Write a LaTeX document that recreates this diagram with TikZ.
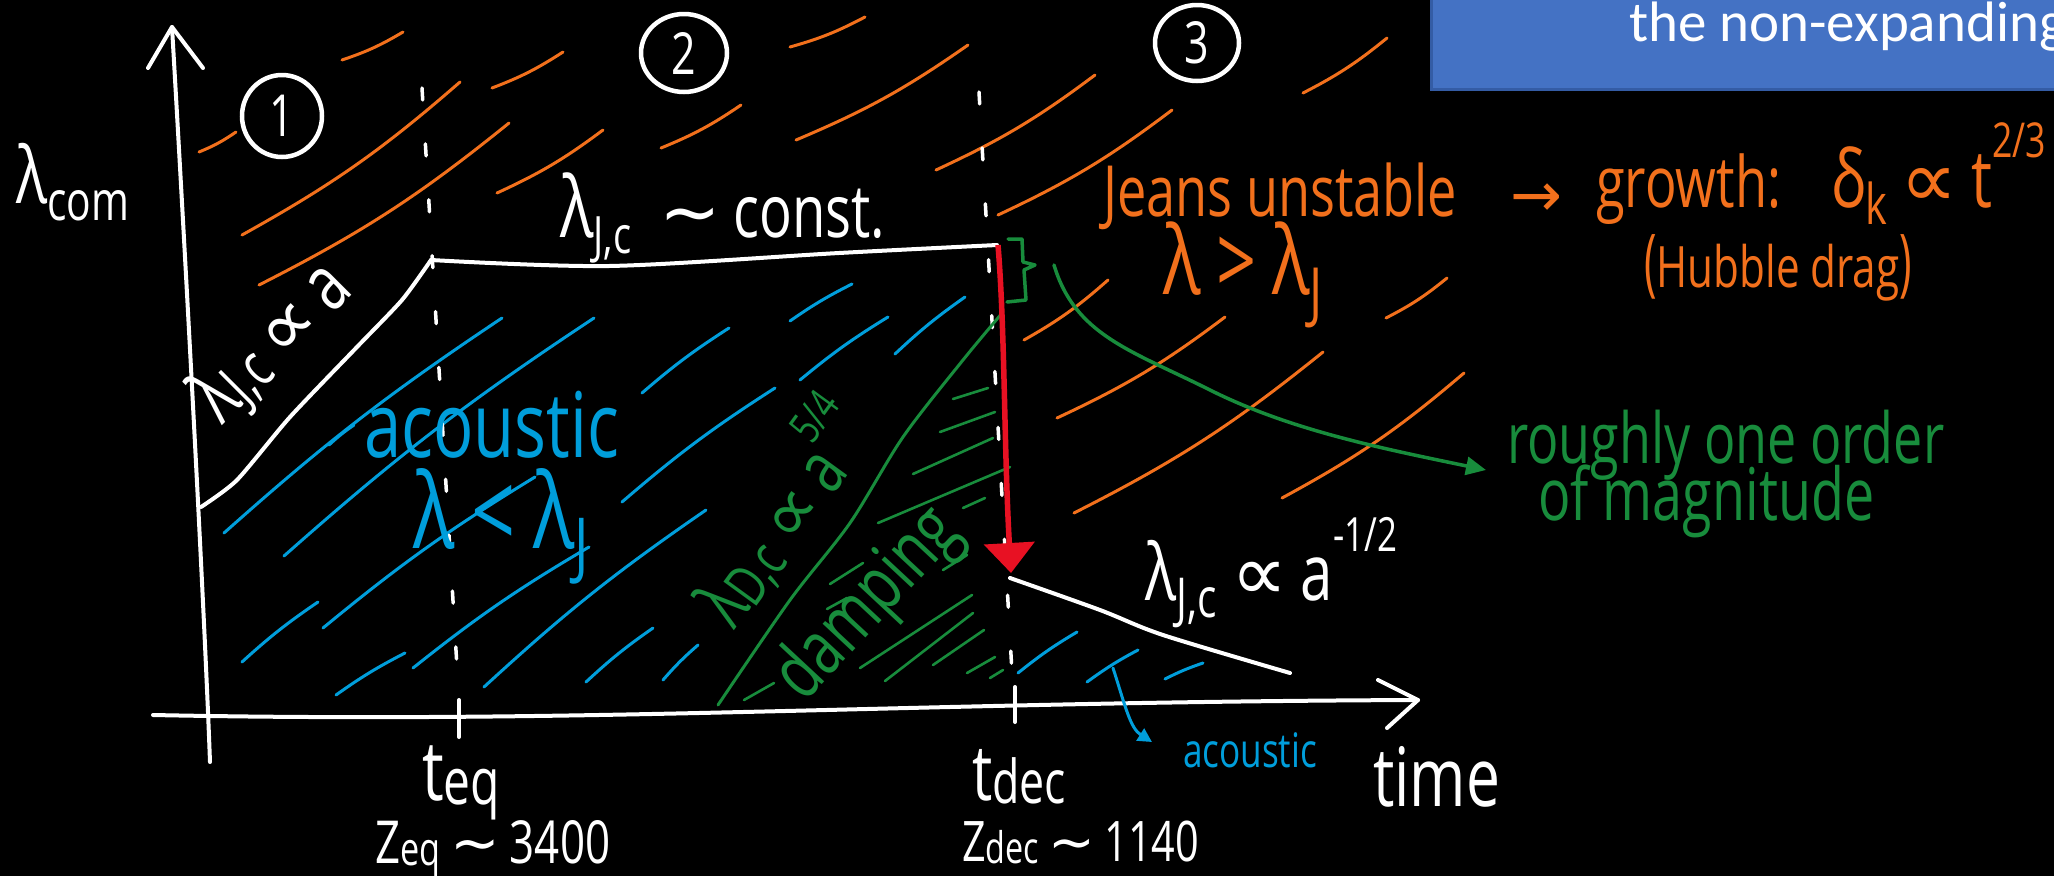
\documentclass[tikz,border=0pt]{standalone}
\usepackage{fontspec}
\usepackage{graphicx}
\usetikzlibrary{arrows.meta,shapes.geometric}
\newfontfamily\hand[FakeStretch=0.74]{Open Sans}
\newfontfamily\symf{DejaVu Sans}
\newfontfamily\boxf{Carlito}
\definecolor{hor}{RGB}{242,112,28}
\definecolor{hbl}{RGB}{0,158,219}
\definecolor{hgr}{RGB}{24,140,60}
\definecolor{hrd}{RGB}{232,17,35}
\definecolor{boxblue}{RGB}{68,114,196}
\definecolor{boxedge}{RGB}{52,92,165}
\newcommand\mylo[1]{\raisebox{-0.22em}{\scalebox{0.7}{#1}}}
\newcommand\mysm[1]{\raisebox{-0.05em}{\scalebox{0.78}{#1}}}
\newcommand\myhi[1]{\raisebox{0.62em}{\scalebox{0.6}{#1}}}
\newcommand\fitw[2]{\resizebox{#1}{!}{#2}}
\newcommand\mysym[1]{{\symf #1}}
\begin{document}
\begin{tikzpicture}[x=1pt,y=-1pt,
  wl/.style={white,line width=4pt,line cap=round,line join=round},
  wdash/.style={white,line width=3.5pt,line cap=round,dash pattern=on 12pt off 44pt},
  orl/.style={hor,line width=3pt,line cap=round},
  bll/.style={hbl,line width=3pt,line cap=round},
  grl/.style={hgr,line width=2.6pt,line cap=round},
  ht/.style={inner sep=0pt,font=\hand\fontsize{40}{48}\selectfont},
  numc/.style={ellipse,draw=white,line width=4.5pt,text=white,inner sep=0pt,font=\hand\fontsize{58}{58}\selectfont}]
\fill[black] (0,0) rectangle (2054,876);
\useasboundingbox (0,0) rectangle (2054,876);
\clip (0,0) rectangle (2054,876);

% title box
\fill[boxblue] (1431,-5) rectangle (2060,89);
\draw[boxedge,line width=3pt] (1431,-5) -- (1431,89) -- (2060,89);
\node[anchor=base west,text=white,inner sep=0pt,font=\boxf\fontsize{57}{62}\selectfont] (title) at (1629,41) {the non-expanding};

% orange hatching
\foreach \a/\b/\c/\d in {199/152/236/132, 342/60/403/32, 242/235/460/82, 259/285/509/123,
  492/88/563/52, 497/193/603/130, 661/148/741/105, 790/47/865/17, 796/140/968/45,
  936/170/1095/75, 998/215/1172/110, 1303/93/1387/38, 1024/340/1108/280,
  1386/318/1447/278, 1057/418/1225/317, 1074/513/1323/352, 1282/498/1464/373}
  \draw[orl] (\a,\b) to[bend right=6] (\c,\d);

% blue hatching
\foreach \a/\b/\c/\d in {224/533/502/318, 284/556/594/318, 242/662/318/602, 323/628/535/477,
  336/695/405/653, 413/668/589/547, 484/687/706/510, 642/393/729/328, 622/502/775/388,
  586/682/653/628, 663/680/698/645, 790/321/852/284, 800/380/888/317, 895/354/965/297,
  329/445/354/425, 1018/673/1077/632, 1087/682/1138/650, 1165/679/1203/663}
  \draw[bll] (\a,\b) to[bend left=4] (\c,\d);

% green hatching
\foreach \a/\b/\c/\d in {953/399/988/388, 940/432/995/412, 913/474/993/438, 878/523/1010/467,
  963/508/985/498, 943/570/967/555, 830/584/863/563, 827/609/847/598, 860/668/972/595,
  885/681/973/613, 933/665/984/630, 967/673/995/657, 990/678/1003/670, 744/700/774/683}
  \draw[grl] (\a,\b) -- (\c,\d);

% dashed time markers
\coordinate (eqtop) at (422,88);
\coordinate (eqbot) at (459,700);
\coordinate (dectop) at (979,92);
\coordinate (decbot) at (1013,690);
\draw[wdash] (eqtop) -- (eqbot);
\draw[wdash] (dectop) -- (decbot);

% axes
\coordinate (yorig) at (210,762);
\coordinate (ytip) at (172,27);
\coordinate (yb1) at (148,68);
\coordinate (yb2) at (203,68);
\draw[wl] (yorig) .. controls (204,600) and (185,250) .. (ytip);
\draw[wl] (yb1) -- (ytip) -- (yb2);
\coordinate (xstart) at (153,715);
\coordinate (xtip) at (1418,700);
\coordinate (xb1) at (1378,680);
\coordinate (xb2) at (1387,728);
\draw[wl] (xstart) .. controls (600,724) and (900,702) .. (xtip);
\draw[wl] (xb1) -- (xtip) -- (xb2);
\draw[wl] (459,700) -- (459,737);
\draw[wl] (1015,687) -- (1015,722);

% Jeans length curve
\coordinate (kink) at (431,260);
\coordinate (corner) at (997,245);
\draw[wl] plot[smooth,tension=0.4] coordinates {(201,507) (237,480) (290,417) (357,347) (402,300) (kink)};
\draw[wl] plot[smooth,tension=0.5] coordinates {(kink) (609,266) (839,253) (corner)};
\coordinate (lowstart) at (1010,578);
\draw[wl] plot[smooth,tension=0.5] coordinates {(lowstart) (1100,610) (1163,635) (1290,673)};

% damping scale
\draw[hgr,line width=3pt,line cap=round] plot[smooth,tension=0.5] coordinates {(718,705) (790,600) (850,523) (903,437) (963,360) (1003,312)};

% red arrow
\coordinate (redtop) at (998,245);
\coordinate (redtip) at (1011,573);
\draw[hrd,line width=5.5pt,-{Triangle[length=30pt,width=50pt]}] (redtop) .. controls (1005,330) and (1004,450) .. (redtip);

% green bracket and arrow
\draw[hgr,line width=3.5pt,line join=round,line cap=round] (1008,239) -- (1022,239) -- (1023,262) -- (1035,265) -- (1024,270) -- (1026,300) -- (1007,302);
\coordinate (gstart) at (1054,265);
\coordinate (gtip) at (1486,470);
\draw[hgr,line width=3.5pt,line cap=round,-{Triangle[length=20pt,width=18pt]}] (gstart) .. controls (1075,335) and (1130,350) .. (1210,390) .. controls (1290,430) and (1380,448) .. (gtip);

% blue arrow to small label
\coordinate (bstart) at (1113,668);
\coordinate (btip) at (1152,742);
\draw[hbl,line width=3pt,line cap=round,-{Triangle[length=14pt,width=14pt]}] (bstart) .. controls (1125,705) and (1130,728) .. (btip);

% circled numbers
\node[numc,minimum width=80pt,minimum height=82pt] (n1) at (282,116) {1};
\node[numc,minimum width=86pt,minimum height=78pt] (n2) at (684,53) {2};
\node[numc,minimum width=84pt,minimum height=76pt] (n3) at (1197,43) {3};

% white labels
\node[ht,text=white,anchor=base west] (lcom) at (16,203) {\fitw{113pt}{λ\mylo{com}}};
\node[ht,text=white,anchor=base west] (lconst) at (560,237) {\fitw{325pt}{\scalebox{1.15}{λ}\mylo{J,c}\ \ \mysym{∼}\,const.}};
\node[ht,text=white,rotate=45] (lJa) at (273,343) {\fitw{188pt}{λ\mysm{J,c}\,\mysym{∝}\,a}};
\node[ht,text=white,anchor=base west] (lJm) at (1145,600) {\fitw{252pt}{λ\mylo{J,c}\ \mysym{∝}\,a\myhi{-1/2}}};
\node[ht,text=white,anchor=base west] (teq) at (422,800) {\fitw{78pt}{t\mysm{eq}}};
\node[ht,text=white,anchor=base west] (zeq) at (375,863) {\fitw{235pt}{Z\mysm{eq}\,\mysym{∼}\,3400}};
\node[ht,text=white,anchor=base west] (tdec) at (972,800) {\fitw{94pt}{t\mysm{dec}}};
\node[ht,text=white,anchor=base west] (zdec) at (962,861) {\fitw{237pt}{Z\mysm{dec}\,\mysym{∼}\,1140}};
\node[ht,text=white,anchor=base west] (time) at (1373,806) {\fitw{127pt}{time}};

% blue labels
\node[ht,text=hbl,anchor=base west] (acou) at (364,457) {\fitw{255pt}{acoustic}};
\node[ht,text=hbl,anchor=base west] (lltJ) at (413,548) {\fitw{176pt}{λ\,<\,λ\mylo{J}}};
\node[ht,text=hbl] (acou2) at (1250,750) {\fitw{134pt}{acoustic}};

% green labels
\node[ht,text=hgr,rotate=54] (lD) at (780,512) {\fitw{245pt}{λ\mysm{D,c}\,\mysym{∝}\,a\myhi{5/4}}};
\node[ht,text=hgr,rotate=47] (damp) at (869,605) {\fitw{232pt}{damping}};
\node[ht,text=hgr,anchor=base west] (rough) at (1507,463) {\fitw{437pt}{roughly one order}};
\node[ht,text=hgr,anchor=base west] (magn) at (1538,520) {\fitw{336pt}{of magnitude}};

% orange labels
\node[ht,text=hor,anchor=base west] (jeans) at (1103,216) {\fitw{354pt}{Jeans unstable}};
\node[ht,text=hor] (arr) at (1536,200) {\fitw{52pt}{\mysym{→}}};
\node[ht,text=hor,anchor=base west] (growth) at (1596,207) {\fitw{185pt}{growth:}};
\node[ht,text=hor,anchor=base west] (dk) at (1831,207) {\fitw{215pt}{δ\mylo{k}\,\mysym{∝}\,t\myhi{2/3}}};
\node[ht,text=hor] (hub) at (1778,268) {\fitw{268pt}{\scalebox{1}[1.3]{(}Hubble drag\scalebox{1}[1.3]{)}}};
\node[ht,text=hor] (lgtJ) at (1243,275) {\fitw{160pt}{λ\,>\,λ\mylo{J}}};
\end{tikzpicture}
\end{document}
